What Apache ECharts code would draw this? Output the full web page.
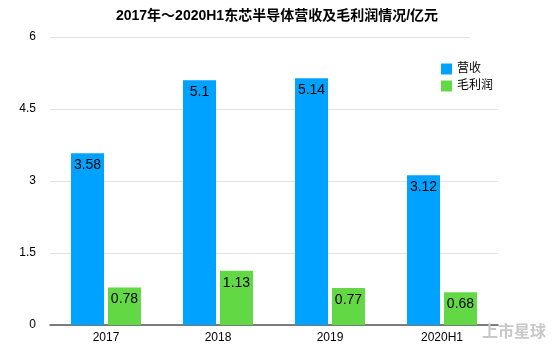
<!DOCTYPE html>
<html><head><meta charset="utf-8">
<script src="https://cdn.jsdelivr.net/npm/echarts@6/dist/echarts.min.js"></script>
<style>html,body{margin:0;padding:0;background:#fff}#c{width:554px;height:354px}</style>
</head><body><div id="c"></div>
<script>
var categories = ['2017', '2018', '2019', '2020H1'];
var revenue = [3.58, 5.1, 5.14, 3.12];
var grossProfit = [0.78, 1.13, 0.77, 0.68];
var yTicks = [0, 1.5, 3, 4.5, 6];
var seriesNames = ['营收', '毛利润'];

var chart = echarts.init(document.getElementById('c'));
var font = '"Helvetica Neue", Arial, "Liberation Sans", "Noto Sans CJK SC", sans-serif';
var lbl = {show: true, position: 'insideTop', distance: 5, color: '#000', fontSize: 14, fontFamily: font,
  formatter: function (p) { return String(p.value); }};
chart.setOption({
  animation: false,
  title: {text: '2017年～2020H1东芯半导体营收及毛利润情况/亿元', left: 'center', top: 4,
    textStyle: {fontSize: 14, fontWeight: 'bold', color: '#000', fontFamily: font}},
  legend: {orient: 'vertical', left: 436, top: 58, itemWidth: 11, itemHeight: 11, itemGap: 5,
    icon: 'rect', textStyle: {fontSize: 12, color: '#000', fontFamily: font}},
  grid: {left: 50, right: 56, top: 37, bottom: 29},
  xAxis: {type: 'category', data: categories,
    axisLine: {lineStyle: {color: '#555', width: 1.5}}, axisTick: {show: false},
    axisLabel: {color: '#000', fontSize: 12, fontFamily: font, margin: 7}},
  yAxis: {type: 'value', min: yTicks[0], max: yTicks[yTicks.length - 1], interval: yTicks[1] - yTicks[0],
    axisLine: {show: false}, axisTick: {show: false},
    axisLabel: {color: '#000', fontSize: 12, fontFamily: font, margin: 14},
    splitLine: {lineStyle: {color: '#e3e3e3', width: 1}}},
  series: [
    {name: seriesNames[0], type: 'bar', data: revenue, barWidth: 33, barGap: '12%',
      itemStyle: {color: '#00a2ff'}, label: lbl},
    {name: seriesNames[1], type: 'bar', data: grossProfit, barWidth: 33,
      itemStyle: {color: '#62d845'}, label: lbl}
  ],
  graphic: [
    {type: 'rect', left: 470, top: 35, shape: {width: 30, height: 4}, style: {fill: '#fff'}, z: 100},
    {type: 'text', left: 482, top: 323, style: {text: '上市星球', fill: '#c8c8c8', fontSize: 16,
      fontFamily: '"Noto Sans CJK SC"', fontWeight: 'bold'}, z: 100}
  ]
});
</script></body></html>
